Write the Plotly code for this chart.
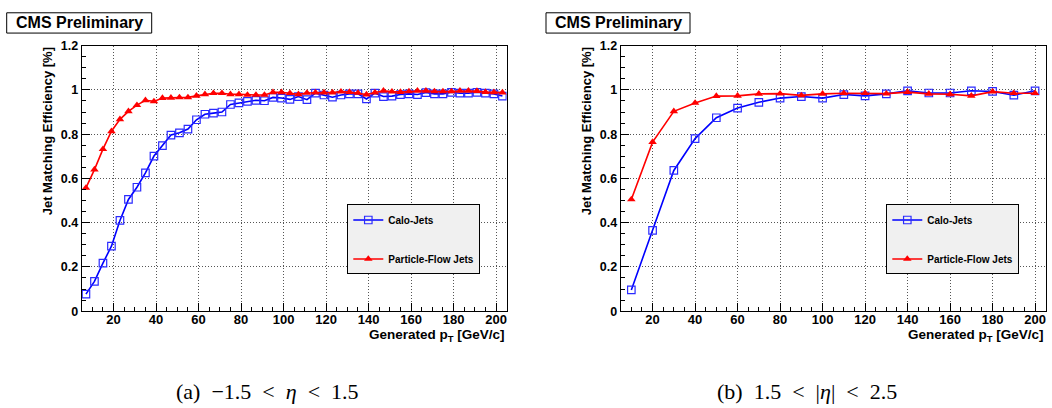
import plotly.graph_objects as go

# ---------------- data ----------------
pt_a = [7, 11, 15, 19, 23, 27, 31, 35, 39, 43, 47, 51, 55, 59, 63, 67, 71, 75, 79, 83,
        87, 91, 95, 99, 103, 107, 111, 115, 119, 123, 127, 131, 135, 139, 143, 147, 151, 155, 159, 163,
        167, 171, 175, 179, 183, 187, 191, 195, 199, 203]
calo_a = [0.077, 0.135, 0.217, 0.294, 0.41, 0.505, 0.56, 0.625, 0.701, 0.748,
          0.796, 0.806, 0.823, 0.865, 0.89, 0.895, 0.9, 0.934, 0.941, 0.948,
          0.953, 0.951, 0.966, 0.963, 0.957, 0.97, 0.956, 0.985, 0.977, 0.967,
          0.977, 0.982, 0.982, 0.959, 0.985, 0.97, 0.972, 0.979, 0.982, 0.979,
          0.988, 0.982, 0.982, 0.989, 0.985, 0.985, 0.989, 0.985, 0.982, 0.972]
pf_a = [0.557, 0.64, 0.732, 0.813, 0.867, 0.903, 0.931, 0.953, 0.948, 0.963,
        0.964, 0.966, 0.966, 0.973, 0.98, 0.985, 0.985, 0.98, 0.98, 0.977,
        0.977, 0.977, 0.989, 0.989, 0.985, 0.98, 0.986, 0.988, 0.988, 0.988,
        0.992, 0.99, 0.986, 0.979, 0.988, 0.996, 0.992, 0.99, 0.993, 0.996,
        0.996, 0.993, 0.993, 0.993, 0.996, 0.996, 0.995, 0.99, 0.989, 0.988]

pt_b = [10, 20, 30, 40, 50, 60, 70, 80, 90, 100, 110, 120, 130, 140, 150, 160, 170, 180, 190, 200]
calo_b = [0.096, 0.365, 0.636, 0.78, 0.874, 0.918, 0.944, 0.963, 0.97, 0.963,
          0.979, 0.973, 0.982, 0.996, 0.986, 0.986, 0.996, 0.993, 0.976, 0.996]
pf_b = [0.505, 0.764, 0.903, 0.941, 0.972, 0.973, 0.982, 0.983, 0.975, 0.982,
        0.985, 0.985, 0.983, 0.99, 0.982, 0.98, 0.973, 0.992, 0.985, 0.985]

series_names = ["Calo-Jets", "Particle-Flow Jets"]
x_ticks = [20, 40, 60, 80, 100, 120, 140, 160, 180, 200]
y_ticks = [0, 0.2, 0.4, 0.6, 0.8, 1, 1.2]
y_tick_text = ["0", "0.2", "0.4", "0.6", "0.8", "1", "1.2"]
NB = "\u00a0"
captions = ["(a)" + NB * 2 + "\u22121.5" + NB + " < " + NB + "<i>\u03b7</i>" + NB + " < " + NB + "1.5",
            "(b)" + NB * 2 + "1.5" + NB + " < " + NB + "|<i>\u03b7</i>|" + NB + " < " + NB + "2.5"]
y_title = "Jet Matching Efficiency [%]"
x_title = "Generated p<sub>T</sub> [GeV/c]"
header = "CMS Preliminary"

# ---------------- layout geometry ----------------
W, H = 1052, 408
SANS = "Liberation Sans, Arial, Helvetica, sans-serif"
SERIF = "Liberation Serif, DejaVu Serif, Times New Roman, serif"

def px(x):
    return x / W

def py(y):
    return 1 - y / H

panels = [
    dict(x0=81.7, x1=506.7, x=pt_a, calo=calo_a, pf=pf_a, legend="legend", cap_x=267, box=(6.7, 151.7), leg_x=347.3),
    dict(x0=620.7, x1=1045.7, x=pt_b, calo=calo_b, pf=pf_b, legend="legend2", cap_x=806.7, box=(546, 690), leg_x=886.3),
]
top_px, bot_px = 40, 315

fig = go.Figure()
shapes = []
annotations = []

for i, p in enumerate(panels):
    xa = "x" if i == 0 else "x2"
    ya = "y" if i == 0 else "y2"
    fig.add_trace(go.Scatter(
        x=p["x"], y=p["calo"], name=series_names[0], xaxis=xa, yaxis=ya,
        mode="lines+markers", legend=p["legend"], legendgroup="calo%d" % i,
        line=dict(color="#0000ff", width=1.6),
        marker=dict(symbol="square-open", size=7.5, color="#2a2aff", line=dict(width=1.2)),
    ))
    fig.add_trace(go.Scatter(
        x=p["x"], y=p["pf"], name=series_names[1], xaxis=xa, yaxis=ya,
        mode="lines+markers", legend=p["legend"], legendgroup="pf%d" % i,
        line=dict(color="#ff0000", width=1.6),
        marker=dict(symbol="triangle-up", size=7.5, color="#ff0000"),
    ))

    ax_common = dict(
        showline=True, linecolor="#000000", linewidth=1, mirror=True,
        showgrid=True, gridcolor="#555555", griddash="1px,2px", gridwidth=1,
        zeroline=False, ticks="inside", ticklen=8, tickcolor="#000000", tickwidth=1,
    )
    xkey = "xaxis" if i == 0 else "xaxis2"
    ykey = "yaxis" if i == 0 else "yaxis2"
    fig.update_layout(**{
        xkey: dict(ax_common, domain=[px(p["x0"]), px(p["x1"])], range=[5, 205],
                   tickvals=x_ticks, anchor=ya, ticklabelstandoff=-4,
                   tickfont=dict(family=SANS, size=13, color="#000000", weight="bold"),
                   minor=dict(dtick=5, tick0=0, ticks="inside", ticklen=4, tickcolor="#000000", showgrid=False)),
        ykey: dict(ax_common, domain=[py(bot_px), py(top_px)], range=[0, 1.2],
                   tickvals=y_ticks, ticktext=y_tick_text, anchor=xa,
                   tickfont=dict(family=SANS, size=12.5, color="#000000", weight="bold"),
                   minor=dict(dtick=0.05, tick0=0, ticks="inside", ticklen=4, tickcolor="#000000", showgrid=False)),
    })

    # legend box
    fig.update_layout(**{p["legend"]: dict(
        x=px(p["leg_x"]), y=py(204.5), xanchor="left", yanchor="top",
        bgcolor="#f0f0f0", bordercolor="#000000", borderwidth=1,
        font=dict(family=SANS, size=10, color="#000000", weight="bold"),
        tracegroupgap=20, itemwidth=30,
    )})

    # header box
    shapes.append(dict(type="rect", xref="paper", yref="paper",
                       x0=px(p["box"][0]), x1=px(p["box"][1]), y0=py(27), y1=py(6),
                       line=dict(color="#000000", width=1), fillcolor="#ffffff"))
    annotations.append(dict(text=header, xref="paper", yref="paper",
                            x=px((p["box"][0] + p["box"][1]) / 2), y=py(16.5),
                            xanchor="center", yanchor="middle", showarrow=False,
                            font=dict(family=SANS, size=16, color="#000000", weight="bold")))
    # y title
    annotations.append(dict(text=y_title, xref="paper", yref="paper",
                            x=px(p["x0"] - 34), y=py(top_px), textangle=-90,
                            xanchor="center", yanchor="top", showarrow=False,
                            font=dict(family=SANS, size=13, color="#000000", weight="bold")))
    # x title
    annotations.append(dict(text=x_title, xref="paper", yref="paper",
                            x=px(p["x1"]), y=py(340), xanchor="right", yanchor="middle",
                            showarrow=False,
                            font=dict(family=SANS, size=13.5, color="#000000", weight="bold")))
    # caption
    annotations.append(dict(text=captions[i], xref="paper", yref="paper",
                            x=px(p["cap_x"]), y=py(398), xanchor="center", yanchor="middle",
                            showarrow=False,
                            font=dict(family=SERIF, size=22, color="#000000")))

fig.update_layout(
    width=W, height=H, margin=dict(l=0, r=0, t=0, b=0),
    paper_bgcolor="#ffffff", plot_bgcolor="#ffffff",
    shapes=shapes, annotations=annotations, showlegend=True,
)

post = ("document.body.style.margin='0';document.body.style.overflow='hidden';"
        "var gd=document.getElementById('{plot_id}');"
        "Plotly.relayout(gd,{width:1052,height:408});")
fig.write_html("out.html", post_script=post, config={"displayModeBar": False})
